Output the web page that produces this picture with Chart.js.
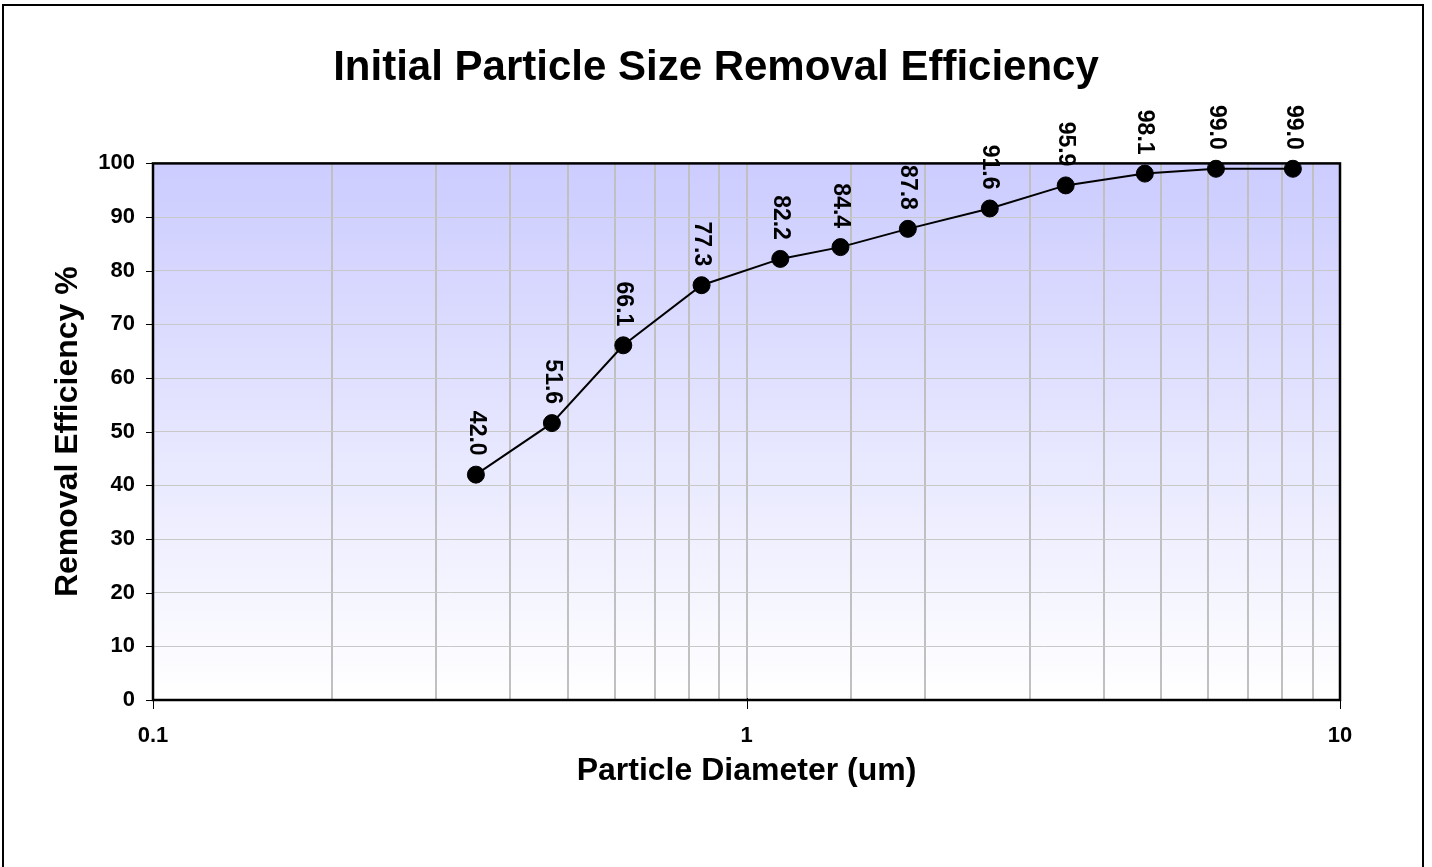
<!DOCTYPE html>
<html>
<head>
<meta charset="utf-8">
<title>Initial Particle Size Removal Efficiency</title>
<script src="https://cdn.jsdelivr.net/npm/chart.js@4"></script>
<style>
  html, body { margin: 0; padding: 0; background: #fff; }
  #wrap { width: 1432px; height: 867px; }
</style>
</head>
<body>
<div id="wrap"><canvas id="chart" width="1432" height="867"></canvas></div>
<script>
// particle diameter (um) and removal efficiency (%)
const diameters = [0.35, 0.47, 0.62, 0.84, 1.14, 1.44, 1.87, 2.57, 3.45, 4.69, 6.18, 8.33];
const efficiency = [42.0, 51.6, 66.1, 77.3, 82.2, 84.4, 87.8, 91.6, 95.9, 98.1, 99.0, 99.0];
const xTickLabels = [0.1, 1, 10];
const yTicks = [0, 10, 20, 30, 40, 50, 60, 70, 80, 90, 100];

const FONT = '"Liberation Sans", Arial, sans-serif';

// outer frame + plot background gradient
const backdrop = {
  id: 'backdrop',
  beforeDraw(chart) {
    const { ctx, chartArea: a } = chart;
    ctx.save();
    ctx.fillStyle = '#fff';
    ctx.fillRect(0, 0, chart.width, chart.height);
    ctx.strokeStyle = '#000';
    ctx.lineWidth = 2;
    ctx.strokeRect(3, 5, 1420, 900);
    const g = ctx.createLinearGradient(0, a.top, 0, a.bottom);
    g.addColorStop(0, '#ccccff');
    g.addColorStop(1, '#ffffff');
    ctx.fillStyle = g;
    ctx.fillRect(a.left, a.top, a.right - a.left, a.bottom - a.top);
    ctx.restore();
  },
  beforeDatasetsDraw(chart) {
    const { ctx, chartArea: a, scales } = chart;
    ctx.save();
    ctx.strokeStyle = '#000';
    ctx.lineWidth = 1;
    // tick marks
    ctx.beginPath();
    yTicks.forEach(v => {
      const y = Math.round(scales.y.getPixelForValue(v)) + 0.5;
      ctx.moveTo(a.left - 7, y);
      ctx.lineTo(a.left, y);
    });
    xTickLabels.forEach(v => {
      const x = Math.round(scales.x.getPixelForValue(v)) + 0.5;
      ctx.moveTo(x, a.bottom - 2);
      ctx.lineTo(x, a.bottom + 9);
    });
    ctx.stroke();
    // plot frame
    ctx.lineWidth = 2.5;
    ctx.strokeRect(a.left, a.top, a.right - a.left, a.bottom - a.top);
    ctx.restore();
  }
};

// vertical value labels above each point
const valueLabels = {
  id: 'valueLabels',
  afterDatasetsDraw(chart) {
    const { ctx } = chart;
    const meta = chart.getDatasetMeta(0);
    ctx.save();
    ctx.fillStyle = '#000';
    ctx.font = 'bold 23px ' + FONT;
    ctx.textAlign = 'right';
    ctx.textBaseline = 'middle';
    meta.data.forEach((pt, i) => {
      ctx.save();
      ctx.translate(pt.x, pt.y - 19);
      ctx.rotate(Math.PI / 2);
      ctx.fillText(efficiency[i].toFixed(1), 0, 0);
      ctx.restore();
    });
    ctx.restore();
  }
};

new Chart(document.getElementById('chart'), {
  type: 'line',
  data: {
    datasets: [{
      data: diameters.map((d, i) => ({ x: d, y: efficiency[i] })),
      borderColor: '#000',
      borderWidth: 2,
      backgroundColor: '#000',
      pointBackgroundColor: '#000',
      pointBorderColor: '#000',
      pointBorderWidth: 1,
      pointRadius: 8.5,
      tension: 0,
      clip: false
    }]
  },
  options: {
    responsive: false,
    animation: false,
    layout: { padding: { left: 45, right: 45, top: 0, bottom: 73 } },
    plugins: {
      legend: { display: false },
      tooltip: { enabled: false },
      title: {
        display: true,
        text: 'Initial Particle Size Removal Efficiency',
        color: '#000',
        font: { family: FONT, size: 42, weight: 'bold' },
        padding: { top: 43, bottom: 70 }
      }
    },
    scales: {
      x: {
        type: 'logarithmic',
        min: 0.1,
        max: 10,
        afterFit: s => { s.height = 94; },
        grid: { color: '#c0c0c0', lineWidth: 2, drawTicks: false },
        border: { display: false },
        ticks: {
          autoSkip: false,
          maxRotation: 0,
          padding: 23,
          color: '#000',
          font: { family: FONT, size: 22, weight: 'bold' },
          callback: v => xTickLabels.includes(Number(v)) ? String(v) : ''
        },
        title: {
          display: true,
          text: 'Particle Diameter (um)',
          color: '#000',
          font: { family: FONT, size: 32, weight: 'bold' }
        }
      },
      y: {
        min: 0,
        max: 100,
        afterFit: s => { s.width = 108; },
        grid: { color: '#c8c8c8', lineWidth: 1, drawTicks: false },
        border: { display: false },
        ticks: {
          stepSize: 10,
          padding: 18,
          color: '#000',
          font: { family: FONT, size: 22, weight: 'bold' }
        },
        title: {
          display: true,
          text: 'Removal Efficiency %',
          color: '#000',
          font: { family: FONT, size: 32, weight: 'bold' }
        }
      },
      // empty right-hand spacer so the title centres on the whole canvas
      yRight: {
        position: 'right',
        min: 0,
        max: 100,
        afterFit: s => { s.width = 47; },
        grid: { display: false },
        border: { display: false },
        ticks: { display: false }
      }
    }
  },
  plugins: [backdrop, valueLabels]
});
</script>
</body>
</html>
